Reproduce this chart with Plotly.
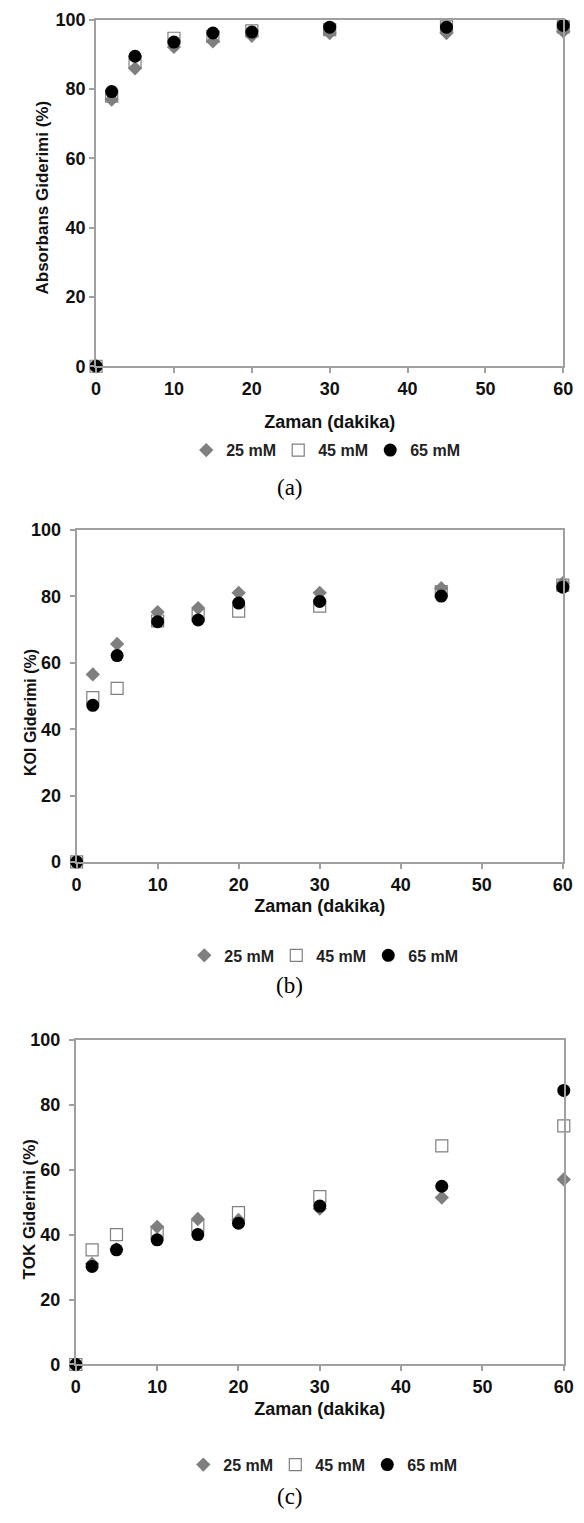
import plotly.graph_objects as go

# ---- data ----
time_min = [0, 2, 5, 10, 15, 20, 30, 45, 60]
series_names = ["25 mM", "45 mM", "65 mM"]

abs_25 = [0, 77.0, 86.0, 92.2, 93.8, 95.4, 96.2, 96.2, 96.7]
abs_45 = [0, 78.0, 87.8, 94.7, 95.2, 96.8, 97.2, 98.0, 98.0]
abs_65 = [0, 79.3, 89.5, 93.6, 96.2, 96.5, 97.9, 97.9, 98.4]

koi_25 = [0, 56.5, 65.7, 75.3, 76.5, 81.1, 81.1, 82.5, 84.0]
koi_45 = [0, 49.5, 52.3, 72.6, 74.3, 75.6, 77.1, 81.5, 83.4]
koi_65 = [0, 47.2, 62.2, 72.4, 72.9, 78.0, 78.5, 80.1, 82.8]

tok_25 = [0, 31.0, 35.5, 42.4, 44.8, 44.5, 48.0, 51.4, 57.0]
tok_45 = [0, 35.3, 40.0, 40.7, 42.7, 46.8, 51.7, 67.3, 73.5]
tok_65 = [0, 30.2, 35.3, 38.4, 40.0, 43.5, 48.8, 54.9, 84.4]

x_ticks = [0, 10, 20, 30, 40, 50, 60]
y_ticks = [0, 20, 40, 60, 80, 100]
x_title = "Zaman (dakika)"
y_titles = ["Absorbans Giderimi (%)", "KOI Giderimi (%)", "TOK Giderimi (%)"]
captions = ["(a)", "(b)", "(c)"]

W, H = 584, 1523
FONT = "Liberation Sans, Arial, sans-serif"
AX = "#a0a0a0"
TXT = "#111111"

marker_styles = [
    dict(symbol="diamond", size=11, color="#7f7f7f", line=dict(width=0)),
    dict(symbol="square-open", size=12, color="#808080", line=dict(width=1.2)),
    dict(symbol="circle", size=13, color="#000000", line=dict(width=0)),
]

panels = [
    dict(data=[abs_25, abs_45, abs_65], xd=[93.5, 573.0], yd=[10.0, 361.0],
         legend_y=446, cap_y=484, legend_x=186, xstand=18,
         ytl_stand=0, yt_x=38, yt_y=190, ytsize=17),
    dict(data=[koi_25, koi_45, koi_65], xd=[73.5, 572.5], yd=[527.0, 863.3],
         legend_y=958, cap_y=988, legend_x=184, xstand=6,
         ytl_stand=5, yt_x=26, yt_y=712, ytsize=16),
    dict(data=[tok_25, tok_45, tok_65], xd=[72.7, 573.5], yd=[1043.5, 1372.5],
         legend_y=1474, cap_y=1506, legend_x=183, xstand=6,
         ytl_stand=5, yt_x=25, yt_y=1215, ytsize=17),
]

fig = go.Figure()
annotations = []
for i, p in enumerate(panels):
    k = "" if i == 0 else str(i + 1)
    leg = "legend" + k
    for j, (name, vals) in enumerate(zip(series_names, p["data"])):
        fig.add_trace(go.Scatter(
            x=time_min, y=vals, name=name, mode="markers",
            marker=marker_styles[j], xaxis="x" + k, yaxis="y" + k,
            legend=leg, cliponaxis=False,
        ))
    xdom = [p["xd"][0] / W, p["xd"][1] / W]
    ydom = [1 - p["yd"][1] / H, 1 - p["yd"][0] / H]
    fig.layout["xaxis" + k] = dict(
        domain=xdom, range=[0, 60], tickvals=x_ticks, showline=True, mirror=True,
        linecolor=AX, linewidth=2, ticks="outside", ticklen=5, tickcolor=AX,
        tickwidth=1.5, showgrid=False, zeroline=False, anchor="y" + k,
        tickfont=dict(family=FONT, size=18, color=TXT, weight="bold"),
        title=dict(text=x_title, standoff=p["xstand"],
                   font=dict(family=FONT, size=18, color=TXT, weight="bold")),
    )
    fig.layout["yaxis" + k] = dict(
        domain=ydom, range=[0, 100], tickvals=y_ticks, showline=True, mirror=True,
        linecolor=AX, linewidth=2, ticks="outside", ticklen=5, tickcolor=AX,
        tickwidth=1.5, showgrid=False, zeroline=False, anchor="x" + k,
        ticklabelstandoff=p["ytl_stand"],
        tickfont=dict(family=FONT, size=18, color=TXT, weight="bold"),
    )
    fig.layout[leg] = dict(
        orientation="h", x=p["legend_x"] / W, xanchor="left",
        y=1 - p["legend_y"] / H, yanchor="middle",
        font=dict(family=FONT, size=16, color="#222222", weight="bold"),
        bgcolor="rgba(0,0,0,0)", itemwidth=30, entrywidth=47, tracegroupgap=0,
    )
    # y-axis title, placed beside the tick labels
    annotations.append(dict(
        text=y_titles[i], textangle=-90, x=p["yt_x"] / W, y=1 - p["yt_y"] / H,
        xref="paper", yref="paper", showarrow=False, xanchor="center",
        yanchor="middle",
        font=dict(family=FONT, size=p["ytsize"], color=TXT, weight="bold"),
    ))
    annotations.append(dict(
        text=captions[i], x=0.5, y=1 - p["cap_y"] / H, xref="paper", yref="paper",
        showarrow=False, font=dict(family="Liberation Serif, Times New Roman, serif",
                                   size=23, color="#000000"),
        xanchor="center", yanchor="middle",
    ))

fig.update_layout(
    width=W, height=H, margin=dict(l=0, r=0, t=0, b=0),
    paper_bgcolor="white", plot_bgcolor="white",
    showlegend=True, annotations=annotations,
)

fig.write_html("out.html")
